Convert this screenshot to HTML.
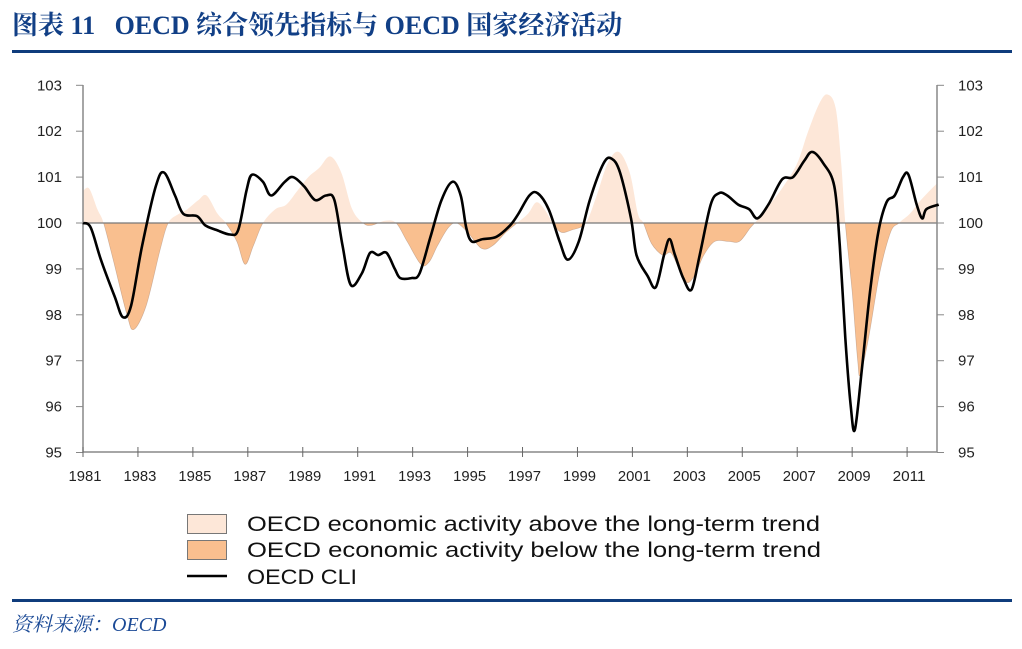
<!DOCTYPE html>
<html><head><meta charset="utf-8"><style>
body{margin:0;background:#fff;width:1022px;height:649px;overflow:hidden;position:relative;font-family:"Liberation Sans","Noto Sans CJK SC",sans-serif}
.t{position:absolute;left:12px;top:5px;font-family:"Liberation Serif","Noto Serif CJK SC",serif;font-weight:bold;font-size:26px;color:#113f86;white-space:nowrap}
.bar{position:absolute;left:12px;width:1000px;height:3px;background:#0f3c7c}
.src{position:absolute;left:12px;top:608px;font-family:"Liberation Serif","Noto Serif CJK SC",serif;font-style:italic;font-size:20px;color:#1b4a96}
</style></head><body>
<div class="t">图表 11&nbsp;&nbsp;&nbsp;OECD 综合领先指标与 OECD 国家经济活动</div>
<div class="bar" style="top:50px"></div>
<div class="bar" style="top:599px"></div>
<div class="src">资料来源：OECD</div>
<svg id="s" width="1022" height="649" style="position:absolute;left:0;top:0" font-family="Liberation Sans, sans-serif"></svg>
<script>
var X=function(y){return 83+(y-1981)*27.47},Y=function(v){return 223-(v-100)*45.9};
var cli=[[1981,100],[1981.5,99.9],[1982,99.2],[1982.5,98.4],[1982.8,97.95],[1983.1,98.2],[1983.5,99.5],[1984,100.8],[1984.3,101.1],[1984.7,100.6],[1985,100.2],[1985.5,100.15],[1985.8,99.95],[1986.2,99.85],[1986.7,99.75],[1987,99.85],[1987.3,100.7],[1987.5,101.05],[1987.9,100.9],[1988.2,100.6],[1988.7,100.9],[1989,101],[1989.4,100.8],[1989.8,100.5],[1990.2,100.6],[1990.5,100.5],[1990.8,99.5],[1991.1,98.65],[1991.5,98.9],[1991.8,99.35],[1992.1,99.3],[1992.4,99.35],[1992.7,99],[1992.9,98.8],[1993.3,98.8],[1993.6,98.9],[1994,99.7],[1994.4,100.5],[1994.8,100.9],[1995.1,100.6],[1995.3,99.9],[1995.5,99.6],[1995.9,99.65],[1996.4,99.7],[1996.9,99.95],[1997.2,100.2],[1997.6,100.6],[1997.9,100.65],[1998.3,100.3],[1998.7,99.6],[1999,99.2],[1999.4,99.6],[1999.8,100.5],[2000.3,101.3],[2000.6,101.4],[2000.9,101.1],[2001.3,100.1],[2001.5,99.3],[2001.9,98.85],[2002.2,98.6],[2002.5,99.3],[2002.7,99.65],[2002.9,99.3],[2003.2,98.8],[2003.5,98.55],[2003.8,99.3],[2004.2,100.4],[2004.5,100.65],[2004.8,100.6],[2005.2,100.4],[2005.6,100.3],[2005.9,100.1],[2006.3,100.4],[2006.8,100.95],[2007.2,101],[2007.6,101.35],[2007.9,101.55],[2008.3,101.3],[2008.7,100.8],[2008.9,99.5],[2009.1,97.5],[2009.3,96],[2009.45,95.5],[2009.7,96.8],[2010,98.5],[2010.3,99.8],[2010.6,100.45],[2010.9,100.6],[2011.2,101],[2011.4,101.05],[2011.7,100.4],[2011.9,100.1],[2012.05,100.3],[2012.15,100.4]];
var fl=[[1981,100.7],[1981.3,100.75],[1981.7,100.3],[1981.95,100],[1982.3,99.2],[1982.8,98],[1983.05,97.68],[1983.5,98.2],[1984,99.4],[1984.3,100],[1984.7,100.2],[1985,100.3],[1985.4,100.5],[1985.7,100.6],[1986.1,100.2],[1986.4,100],[1986.8,99.6],[1987.1,99.1],[1987.4,99.5],[1987.75,100],[1988.2,100.3],[1988.6,100.4],[1989,100.7],[1989.4,101],[1989.8,101.2],[1990.2,101.45],[1990.6,101.1],[1991,100.3],[1991.4,100],[1991.7,99.95],[1992.2,100.05],[1992.6,100],[1993,99.6],[1993.5,99.1],[1993.8,99.15],[1994.1,99.5],[1994.5,99.9],[1994.8,100],[1995.2,99.8],[1995.7,99.45],[1996.1,99.5],[1996.6,99.8],[1997,100],[1997.4,100.2],[1997.7,100.45],[1998,100.3],[1998.3,100],[1998.6,99.8],[1999,99.85],[1999.5,100],[1999.9,100.6],[2000.3,101.3],[2000.7,101.55],[2001.1,101.1],[2001.4,100.2],[2001.6,100],[2001.9,99.55],[2002.3,99.3],[2002.6,99.35],[2002.9,99],[2003.2,98.7],[2003.5,98.9],[2003.8,99.3],[2004.2,99.6],[2004.7,99.6],[2005.1,99.6],[2005.5,99.9],[2005.8,100.1],[2006.2,100.4],[2006.7,100.8],[2007.2,101.3],[2007.6,102],[2008,102.6],[2008.3,102.8],[2008.6,102.5],[2008.8,101.3],[2008.95,100],[2009.2,98.5],[2009.4,97],[2009.5,96.7],[2009.8,97.5],[2010.2,98.9],[2010.6,99.8],[2010.9,100],[2011.3,100.2],[2011.7,100.5],[2012.15,100.9]];
function shift(d,s){var n=d.length;return d.map(function(a,i){var y=a[0]-s*Math.min(1,(a[0]-1981)/0.8);if(i==0)y=1981;if(i==n-1)y=2012.15;return[y,a[1]]})}
cli=shift(cli,0.35);fl=shift(fl,0.2);
function cr(d){var p=d.map(function(a){return[X(a[0]),Y(a[1])]});var s="M"+p[0][0].toFixed(1)+","+p[0][1].toFixed(1);
for(var i=0;i<p.length-1;i++){var p0=p[i>0?i-1:i],p1=p[i],p2=p[i+1],p3=p[i+2<p.length?i+2:i+1];
s+="C"+(p1[0]+(p2[0]-p0[0])/6).toFixed(1)+","+(p1[1]+(p2[1]-p0[1])/6).toFixed(1)+" "+(p2[0]-(p3[0]-p1[0])/6).toFixed(1)+","+(p2[1]-(p3[1]-p1[1])/6).toFixed(1)+" "+p2[0].toFixed(1)+","+p2[1].toFixed(1)}return s}
var h='<defs><clipPath id="a"><rect x="83" y="0" width="854" height="223"/></clipPath><clipPath id="b"><rect x="83" y="223" width="854" height="240"/></clipPath></defs>';
var fp=cr(fl)+"L"+X(2012.15)+",223L83,223Z";
h+='<path d="'+fp+'" fill="#fde7d8" clip-path="url(#a)"/>';
h+='<path d="'+fp+'" fill="#f9bf8f" clip-path="url(#b)"/>';
h+='<path d="'+cr(fl)+'" fill="none" stroke="#a08070" stroke-width="0.6" stroke-opacity="0.5" clip-path="url(#b)"/>';
h+='<line x1="83" y1="223" x2="937" y2="223" stroke="#777" stroke-width="1.2"/>';
h+='<path d="M83,85V452H937V85" fill="none" stroke="#888" stroke-width="1.5"/>';
for(var v=95;v<=103;v++){var y=Y(v);h+='<line x1="76" y1="'+y+'" x2="83" y2="'+y+'" stroke="#888"/><line x1="937" y1="'+y+'" x2="944" y2="'+y+'" stroke="#888"/>';
h+='<text x="62" y="'+(y+5)+'" text-anchor="end" font-size="15" fill="#222">'+v+'</text><text x="958" y="'+(y+5)+'" font-size="15" fill="#222">'+v+'</text>'}
for(var yr=1981;yr<=2011;yr+=2){var x=X(yr);h+='<line x1="'+x+'" y1="447" x2="'+x+'" y2="457" stroke="#666"/><text x="'+(x+2)+'" y="481" text-anchor="middle" font-size="15" fill="#222" textLength="33" lengthAdjust="spacingAndGlyphs">'+yr+'</text>'}
h+='<path d="'+cr(cli)+'" fill="none" stroke="#000" stroke-width="2.6" stroke-linejoin="round"/>';
h+='<rect x="187.5" y="514.5" width="39" height="19" fill="#fde7d8" stroke="#777"/><rect x="187.5" y="540.5" width="39" height="19" fill="#f9bf8f" stroke="#777"/><line x1="187" y1="576" x2="227" y2="576" stroke="#000" stroke-width="2.5"/>';
var tf='font-family="Liberation Sans, sans-serif" font-size="21" fill="#111"';
h+='<text x="247" y="531" '+tf+' textLength="573" lengthAdjust="spacingAndGlyphs">OECD economic activity above the long-term trend</text>';
h+='<text x="247" y="557" '+tf+' textLength="574" lengthAdjust="spacingAndGlyphs">OECD economic activity below the long-term trend</text>';
h+='<text x="247" y="584" '+tf+' textLength="110" lengthAdjust="spacingAndGlyphs">OECD CLI</text>';
document.getElementById("s").innerHTML=h;
</script>
</body></html>
